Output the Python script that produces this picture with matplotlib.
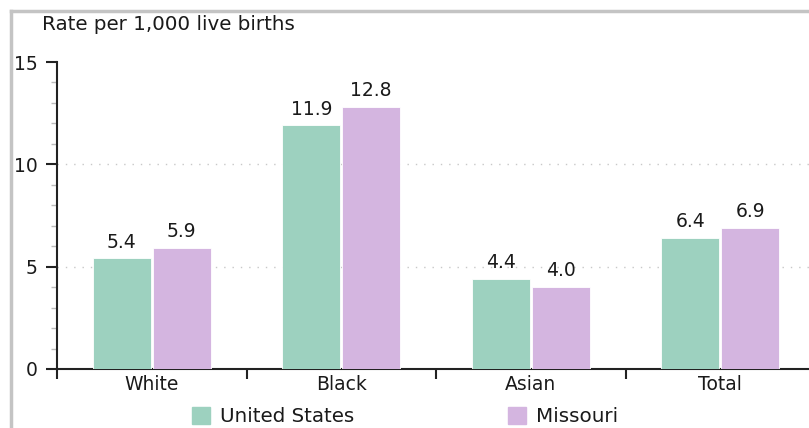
import numpy as np
import matplotlib
matplotlib.use("Agg")
from matplotlib import pyplot as plt
from matplotlib.patches import Rectangle
from matplotlib.lines import Line2D

# data
categories = ["White", "Black", "Asian", "Total"]
us_rates = [5.4, 11.9, 4.4, 6.4]
mo_rates = [5.9, 12.8, 4.0, 6.9]
series_names = ["United States", "Missouri"]
y_ticks = [0, 5, 10, 15]

# style
green = "#9dd1bf"
purple = "#d4b5e0"
font_size = 13.5
label_size = 14.3
text_col = "#1a1a1a"
W, H = 809, 428

plt.rcParams['font.family'] = ['DejaVu Sans']

fig = plt.figure(figsize=(W / 100, H / 100), dpi=100)
ax = fig.add_axes([57 / W, 59 / H, 758 / W, 307 / H])

centers = np.arange(len(categories)) + 0.5
bar_w = 0.305
off = 0.158
b1 = ax.bar(centers - off, us_rates, bar_w, color=green, edgecolor="white", linewidth=0.6, zorder=3)
b2 = ax.bar(centers + off, mo_rates, bar_w, color=purple, edgecolor="white", linewidth=0.6, zorder=3)

for bars, vals in ((b1, us_rates), (b2, mo_rates)):
    for rect, v in zip(bars, vals):
        ax.annotate("%.1f" % v, (rect.get_x() + rect.get_width() / 2, v),
                    xytext=(0, 5), textcoords="offset points",
                    ha="center", va="bottom", fontsize=font_size, color=text_col)

# grid
for g in (5, 10):
    ax.axhline(g, color="#c8c8c8", linewidth=1, linestyle=(0, (1, 5)), zorder=1)

ax.set_xlim(0, 4)
ax.set_ylim(0, 15)

for s in ("top", "right"):
    ax.spines[s].set_visible(False)
for s in ("left", "bottom"):
    ax.spines[s].set_color("#222222")
    ax.spines[s].set_linewidth(1.5)

ax.set_yticks(y_ticks)
ax.set_yticks(np.arange(0, 16, 1), minor=True)
ax.tick_params(axis="y", which="major", length=8, width=1.5, color="#222222",
               labelsize=font_size, pad=6, labelcolor=text_col)
ax.tick_params(axis="y", which="minor", length=4, width=1, color="#bbbbbb")

ax.set_xticks(np.arange(0, 5, 1))
ax.set_xticklabels([])
ax.set_xticks(centers, minor=True)
ax.set_xticklabels(categories, minor=True)
ax.tick_params(axis="x", which="major", length=7, width=1.5, color="#222222")
ax.tick_params(axis="x", which="minor", length=0, labelsize=font_size, pad=4, labelcolor=text_col)

fig.text(42 / W, 1 - 25 / H, "Rate per 1,000 live births", fontsize=label_size,
         ha="left", va="center", color=text_col)

# legend
for x0, col, name in ((192, green, series_names[0]), (508, purple, series_names[1])):
    fig.patches.append(Rectangle((x0 / W, 1 - 424 / H), 18 / W, 17 / H,
                                 transform=fig.transFigure, color=col))
    fig.text((x0 + 28) / W, 1 - 416 / H, name, fontsize=label_size,
             ha="left", va="center", color=text_col)

# outer frame
fig.lines.append(Line2D([10.5 / W, 10.5 / W], [0, 1 - 11 / H], transform=fig.transFigure,
                        color="#c4c4c4", linewidth=2.5))
fig.lines.append(Line2D([10.5 / W, 1], [1 - 11 / H, 1 - 11 / H], transform=fig.transFigure,
                        color="#c4c4c4", linewidth=2.5))

fig.savefig("out.png", dpi=100)
